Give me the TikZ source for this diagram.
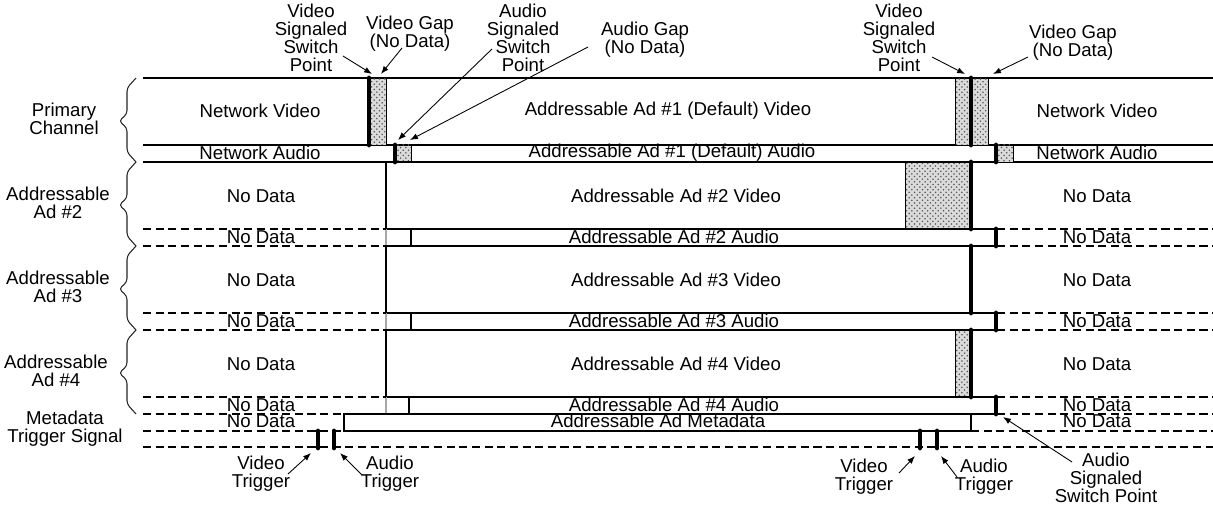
\documentclass[tikz,border=0pt]{standalone}
\usepackage{fontspec}
\setmainfont{Liberation Sans}
\usetikzlibrary{arrows.meta,patterns}

\begin{document}
\begin{tikzpicture}[x=0.02cm, y=-0.02cm, >={Latex[length=4.5pt,width=3.4pt]},
  lbl/.style={font=\fontsize{10.6}{10.2}\selectfont, align=center, inner sep=0pt},
  ln/.style={line width=0.6pt},
  dln/.style={line width=0.6pt, dash pattern=on 4.6pt off 2.6pt},
  sw/.style={line width=2.8pt, line cap=round},
  gapfill/.style={draw, line width=0.5pt, fill=black!14, postaction={pattern=crosshatch dots, pattern color=black!65}},
  brc/.style={line width=0.6pt, black!85, rounded corners=2pt},
  callout/.style={->, line width=0.5pt}]

  \fill[white] (0,0) rectangle (1213,506);
  \useasboundingbox (0,0) rectangle (1213,506);

  % primary channel
  \draw[ln] (143,78) -- (1213,78) (143,145) -- (1213,145) (143,162) -- (1213,162);
  \draw[gapfill] (369,78) rectangle (386,145);
  \draw[gapfill] (395,145) rectangle (411,162);
  \draw[gapfill] (955,78) rectangle (988,145);
  \draw[gapfill] (996,145) rectangle (1013,162);
  \draw[sw] (369,78) -- (369,145) (395,145) -- (395,162)
            (971,78) -- (971,145) (996,145) -- (996,162);

  % addressable ads
  \draw[gapfill] (905,162) rectangle (971,229);
  \draw[gapfill] (955,330) rectangle (971,397);
  \foreach \t/\ax in {162/411, 246/411, 330/409} {
    \draw[ln] (386,\t) rectangle (971,\t+67);
    \draw[ln] (\ax,\t+67) rectangle (997,\t+84);
    \draw[ln, black!35] (386,\t+67) -- (386,\t+84);
    \draw[dln] (143,\t+67) -- (386,\t+67) (143,\t+84) -- (386,\t+84)
               (997,\t+67) -- (1213,\t+67) (997,\t+84) -- (1213,\t+84);
    \draw[sw] (971,\t) -- (971,\t+67) (996,\t+67) -- (996,\t+84);
  }

  % metadata
  \draw[ln] (344,414) rectangle (971,431);
  \draw[dln] (143,431) -- (344,431) (971,431) -- (1213,431) (143,447) -- (1213,447);
  \draw[sw] (318,431) -- (318,448) (334,431) -- (334,448)
            (920,431) -- (920,448) (937,431) -- (937,448);

  % braces
  \foreach \t in {78,162,246,330}
    \draw[brc] (136,\t) -- (127,\t+10) -- (127,\t+36) -- (119,\t+43) -- (127,\t+50) -- (127,\t+74) -- (136,\t+84);

  % row names
  \node[lbl] (prim) at (64,119) {Primary\\Channel};
  \node[lbl] (ad2) at (58,203) {Addressable\\Ad \#2};
  \node[lbl] (ad3) at (58,287) {Addressable\\Ad \#3};
  \node[lbl] (ad4) at (56,371) {Addressable\\Ad \#4};
  \node[lbl] (meta) at (65,429) {Metadata\\Trigger Signal};

  % row contents
  \node[lbl] (nvL) at (260,111) {Network Video};
  \node[lbl] (a1v) at (668,111) {Addressable Ad \#1 (Default) Video};
  \node[lbl] (nvR) at (1097,111) {Network Video};
  \node[lbl] (naL) at (260,153) {Network Audio};
  \node[lbl] (a1a) at (672,153) {Addressable Ad \#1 (Default) Audio};
  \node[lbl] (naR) at (1097,153) {Network Audio};
  \foreach \n/\t in {2/162, 3/246, 4/330} {
    \node[lbl] (nd\n vL) at (261,\t+34) {No Data};
    \node[lbl] (a\n v) at (676,\t+34) {Addressable Ad \#\n\ Video};
    \node[lbl] (nd\n vR) at (1097,\t+34) {No Data};
    \node[lbl] (nd\n aL) at (261,\t+75) {No Data};
    \node[lbl] (a\n a) at (674,\t+75) {Addressable Ad \#\n\ Audio};
    \node[lbl] (nd\n aR) at (1097,\t+75) {No Data};
  }
  \node[lbl] (ndmL) at (261,421) {No Data};
  \node[lbl] (ameta) at (658,421) {Addressable Ad Metadata};
  \node[lbl] (ndmR) at (1097,421) {No Data};

  % callouts
  \node[lbl] (vssL) at (311,38) {Video\\Signaled\\Switch\\Point};
  \node[lbl] (vgapL) at (410,34) {Video Gap\\(No Data)};
  \node[lbl] (assL) at (523,38) {Audio\\Signaled\\Switch\\Point};
  \node[lbl] (agapL) at (645,40) {Audio Gap\\(No Data)};
  \node[lbl] (vssR) at (899,38) {Video\\Signaled\\Switch\\Point};
  \node[lbl] (vgapR) at (1073,43) {Video Gap\\(No Data)};
  \node[lbl] (vtrL) at (261,474) {Video\\Trigger};
  \node[lbl] (atrL) at (390,474) {Audio\\Trigger};
  \node[lbl] (vtrR) at (864,477) {Video\\Trigger};
  \node[lbl] (atrR) at (984,477) {Audio\\Trigger};
  \node[lbl] (assR) at (1106,478) {Audio\\Signaled\\Switch Point};

  \coordinate (vssL-s) at (343,56);   \coordinate (vssL-e) at (372,74);
  \coordinate (vgapL-s) at (402,48);  \coordinate (vgapL-e) at (381,74);
  \coordinate (assL-s) at (492,49);   \coordinate (assL-e) at (398,140);
  \coordinate (agapL-s) at (588,47);  \coordinate (agapL-e) at (410,140);
  \coordinate (vssR-s) at (932,57);   \coordinate (vssR-e) at (965,74);
  \coordinate (vgapR-s) at (1028,57); \coordinate (vgapR-e) at (993,74);
  \coordinate (vtrL-s) at (288,474);  \coordinate (vtrL-e) at (311,453);
  \coordinate (atrL-s) at (362,475);  \coordinate (atrL-e) at (340,453);
  \coordinate (vtrR-s) at (899,473);  \coordinate (vtrR-e) at (915,456);
  \coordinate (atrR-s) at (957,477);  \coordinate (atrR-e) at (941,456);
  \coordinate (assR-s) at (1072,462); \coordinate (assR-e) at (1003,417);
  \foreach \c in {vssL,vgapL,assL,agapL,vssR,vgapR,vtrL,atrL,vtrR,atrR,assR}
    \draw[callout] (\c-s) -- (\c-e);
\end{tikzpicture}
\end{document}
